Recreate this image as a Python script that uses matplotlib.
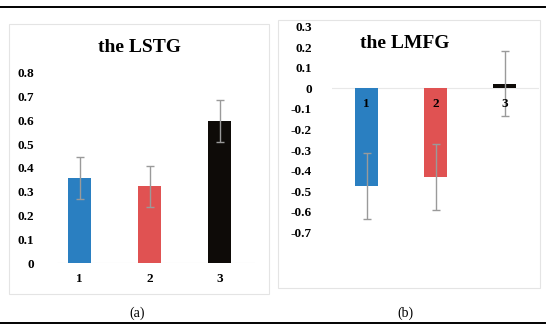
import matplotlib
matplotlib.use("Agg")
import matplotlib.pyplot as plt
from matplotlib.lines import Line2D
from matplotlib.patches import Rectangle

# ---- data ----
categories = ["1", "2", "3"]
lstg_values = [0.357, 0.322, 0.597]
lstg_errors = [0.087, 0.087, 0.087]
lmfg_values = [-0.474, -0.432, 0.022]
lmfg_errors = [0.16, 0.16, 0.158]
lstg_ticks = [0, 0.1, 0.2, 0.3, 0.4, 0.5, 0.6, 0.7, 0.8]
lmfg_ticks = [-0.7, -0.6, -0.5, -0.4, -0.3, -0.2, -0.1, 0, 0.1, 0.2, 0.3]
bar_colors = ["#2a7fc1", "#e05252", "#0e0b08"]

W, H = 550, 332
fig = plt.figure(figsize=(W / 100, H / 100), dpi=100)
serif = ["Liberation Serif", "DejaVu Serif"]


def px_axes(x0, x1, ytop, ybot):
    return fig.add_axes([x0 / W, 1 - ybot / H, (x1 - x0) / W, (ybot - ytop) / H])


def fmt(v):
    if abs(v) < 1e-9:
        return "0"
    return f"{v:.1f}"


# frame lines
fig.add_artist(Line2D([0, 545 / W], [1 - 7 / H, 1 - 7 / H], color="black", lw=1.4))
fig.add_artist(Line2D([0, 545 / W], [1 - 322.5 / H, 1 - 322.5 / H], color="black", lw=1.4))

# chart boxes
fig.add_artist(Rectangle((9 / W, 1 - 294 / H), 260 / W, 270 / H, fill=False,
                         edgecolor="#e4e4e4", lw=0.8))
fig.add_artist(Rectangle((278 / W, 1 - 288 / H), 262 / W, 268 / H, fill=False,
                         edgecolor="#e4e4e4", lw=0.8))

x = [1, 2, 3]
tick_fs = 9.5

# ---- left panel ----
ax1 = px_axes(44.5, 254.5, 72.7, 263)
ax1.bar(x, lstg_values, width=0.33, color=bar_colors, zorder=2)
ax1.errorbar(x, lstg_values, yerr=lstg_errors, fmt="none", ecolor="#9a9a9a",
             elinewidth=1.0, capsize=3, capthick=1.0, zorder=3)
ax1.set_xlim(0.5, 3.5)
ax1.set_ylim(0, 0.8)
ax1.set_yticks(lstg_ticks)
ax1.set_yticklabels([fmt(v) for v in lstg_ticks], fontfamily=serif,
                    fontweight="bold", fontsize=tick_fs)
ax1.set_xticks(x)
ax1.set_xticklabels(categories, fontfamily=serif, fontweight="bold", fontsize=tick_fs)
ax1.tick_params(length=0, pad=7)
ax1.tick_params(axis="y", pad=7.5)
for s in ax1.spines.values():
    s.set_visible(False)
ax1.axhline(0, xmin=(58 - 44.5) / 210, xmax=1, color="#e8e8e8", lw=0.8, zorder=1)
ax1.patch.set_alpha(0)
fig.text(139 / W, 1 - 47 / H, "the LSTG", ha="center", va="center",
         fontfamily=serif, fontweight="bold", fontsize=14)

# ---- right panel ----
ax2 = px_axes(332, 539, 26.7, 232.3)
ax2.bar(x, lmfg_values, width=0.33, color=bar_colors, zorder=2)
ax2.errorbar(x, lmfg_values, yerr=lmfg_errors, fmt="none", ecolor="#9a9a9a",
             elinewidth=1.0, capsize=3, capthick=1.0, zorder=3)
ax2.set_xlim(0.5, 3.5)
ax2.set_ylim(-0.7, 0.3)
ax2.set_yticks(lmfg_ticks)
ax2.set_yticklabels([fmt(v) for v in lmfg_ticks], fontfamily=serif,
                    fontweight="bold", fontsize=tick_fs)
ax2.set_xticks([])
ax2.tick_params(length=0, pad=14.5)
for s in ax2.spines.values():
    s.set_visible(False)
ax2.axhline(0, color="#e8e8e8", lw=0.8, zorder=1)
ax2.patch.set_alpha(0)
for xi, lab in zip(x, categories):
    ax2.annotate(lab, (xi, 0), xytext=(0, -11), textcoords="offset points",
                 ha="center", va="center", fontfamily=serif, fontweight="bold",
                 fontsize=tick_fs, zorder=4)
fig.text(405 / W, 1 - 44 / H, "the LMFG", ha="center", va="center",
         fontfamily=serif, fontweight="bold", fontsize=14)

# captions
fig.text(137 / W, 1 - 313 / H, "(a)", ha="center", va="center",
         fontfamily=serif, fontsize=10)
fig.text(405 / W, 1 - 313 / H, "(b)", ha="center", va="center",
         fontfamily=serif, fontsize=10)

fig.savefig("out.png", dpi=100)
